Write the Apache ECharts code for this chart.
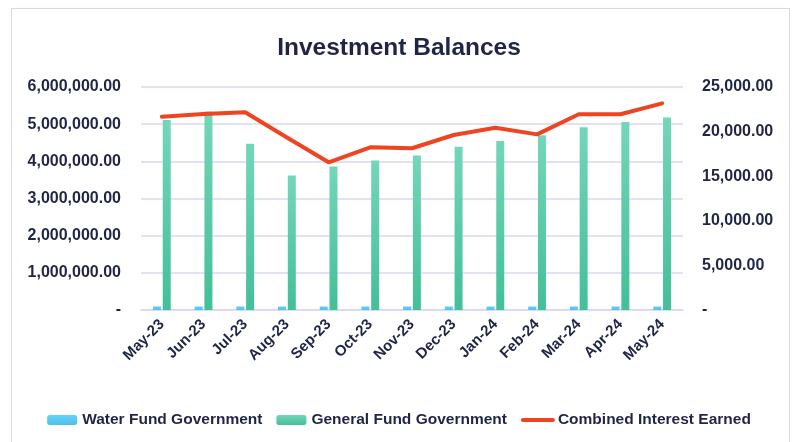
<!DOCTYPE html>
<html>
<head>
<meta charset="utf-8">
<script src="https://cdn.jsdelivr.net/npm/echarts@6/dist/echarts.min.js"></script>
<style>
	html, body { margin: 0; padding: 0; background: #fff; }
	#frame { position: absolute; left: 11px; top: 8px; width: 777px; height: 440px; border: 1px solid #d9d9ee; border-bottom: none; }
	#chart { width: 798px; height: 442px; }
</style>
</head>
<body>
<div id="frame"></div>
<div id="chart"></div>
<script>
const months = ['May-23', 'Jun-23', 'Jul-23', 'Aug-23', 'Sep-23', 'Oct-23', 'Nov-23', 'Dec-23', 'Jan-24', 'Feb-24', 'Mar-24', 'Apr-24', 'May-24']
const waterFund = [95000, 95000, 95000, 95000, 95000, 95000, 95000, 95000, 95000, 95000, 95000, 95000, 95000]
const generalFund = [5110000, 5340000, 4470000, 3620000, 3860000, 4020000, 4160000, 4390000, 4550000, 4700000, 4920000, 5060000, 5180000]
const interest = [21670, 21970, 22160, 19340, 16560, 18240, 18130, 19620, 20440, 19690, 21940, 21940, 23170]

const ink = '#1f2645'
const lavender = '#d9d9ee'
const font = 'Liberation Sans'

function money(v) {
	if (v === 0) return '-'
	return v.toLocaleString('en-US', { minimumFractionDigits: 2, maximumFractionDigits: 2 })
}

const chart = echarts.init(document.getElementById('chart'))
chart.setOption({
	animation: false,
	title: {
		text: 'Investment Balances',
		left: 'center',
		top: 31,
		textStyle: { color: ink, fontSize: 24.5, fontWeight: 'bold', fontFamily: font }
	},
	legend: {
		bottom: 9,
		left: 'center',
		itemWidth: 30,
		itemHeight: 10,
		itemGap: 14,
		textStyle: { color: ink, fontSize: 15.5, fontWeight: 'bold', fontFamily: font },
		data: [
			'Water Fund Government',
			'General Fund Government',
			{ name: 'Combined Interest Earned', itemStyle: { color: 'rgba(0,0,0,0)', borderWidth: 0 }, lineStyle: { width: 4, cap: 'round' } }
		]
	},
	grid: { left: 141, right: 115, top: 87, bottom: 132 },
	xAxis: {
		type: 'category',
		data: months,
		axisLine: { lineStyle: { color: lavender, width: 1.5 } },
		axisTick: { length: 8, lineStyle: { color: lavender, width: 1.5 } },
		axisLabel: { rotate: 45, color: ink, fontSize: 15, fontWeight: 'bold', fontFamily: font, margin: 12, interval: 0 }
	},
	yAxis: [{
		type: 'value',
		min: 0,
		max: 6000000,
		interval: 1000000,
		axisLine: { show: false },
		axisTick: { show: false },
		splitLine: { lineStyle: { color: lavender, width: 1.5 } },
		axisLabel: { color: ink, fontSize: 16, fontWeight: 'bold', fontFamily: font, margin: 20, formatter: money }
	}, {
		type: 'value',
		min: 0,
		max: 25000,
		interval: 5000,
		axisLine: { show: false },
		axisTick: { show: false },
		splitLine: { show: false },
		axisLabel: { color: ink, fontSize: 16, fontWeight: 'bold', fontFamily: font, margin: 19, formatter: money }
	}],
	series: [{
		name: 'Water Fund Government',
		type: 'bar',
		data: waterFund,
		barWidth: 8,
		barGap: '22%',
		itemStyle: { color: new echarts.graphic.LinearGradient(0, 0, 0, 1, [{ offset: 0, color: '#66d2f8' }, { offset: 1, color: '#4cc0ee' }]) }
	}, {
		name: 'General Fund Government',
		type: 'bar',
		data: generalFund,
		barWidth: 8,
		itemStyle: { color: new echarts.graphic.LinearGradient(0, 0, 0, 1, [{ offset: 0, color: '#74d6b9' }, { offset: 1, color: '#43bf99' }]) }
	}, {
		name: 'Combined Interest Earned',
		type: 'line',
		yAxisIndex: 1,
		data: interest,
		symbol: 'none',
		lineStyle: { color: '#ee4422', width: 4, cap: 'round' },
		itemStyle: { color: '#ee4422' }
	}]
})
</script>
</body>
</html>
